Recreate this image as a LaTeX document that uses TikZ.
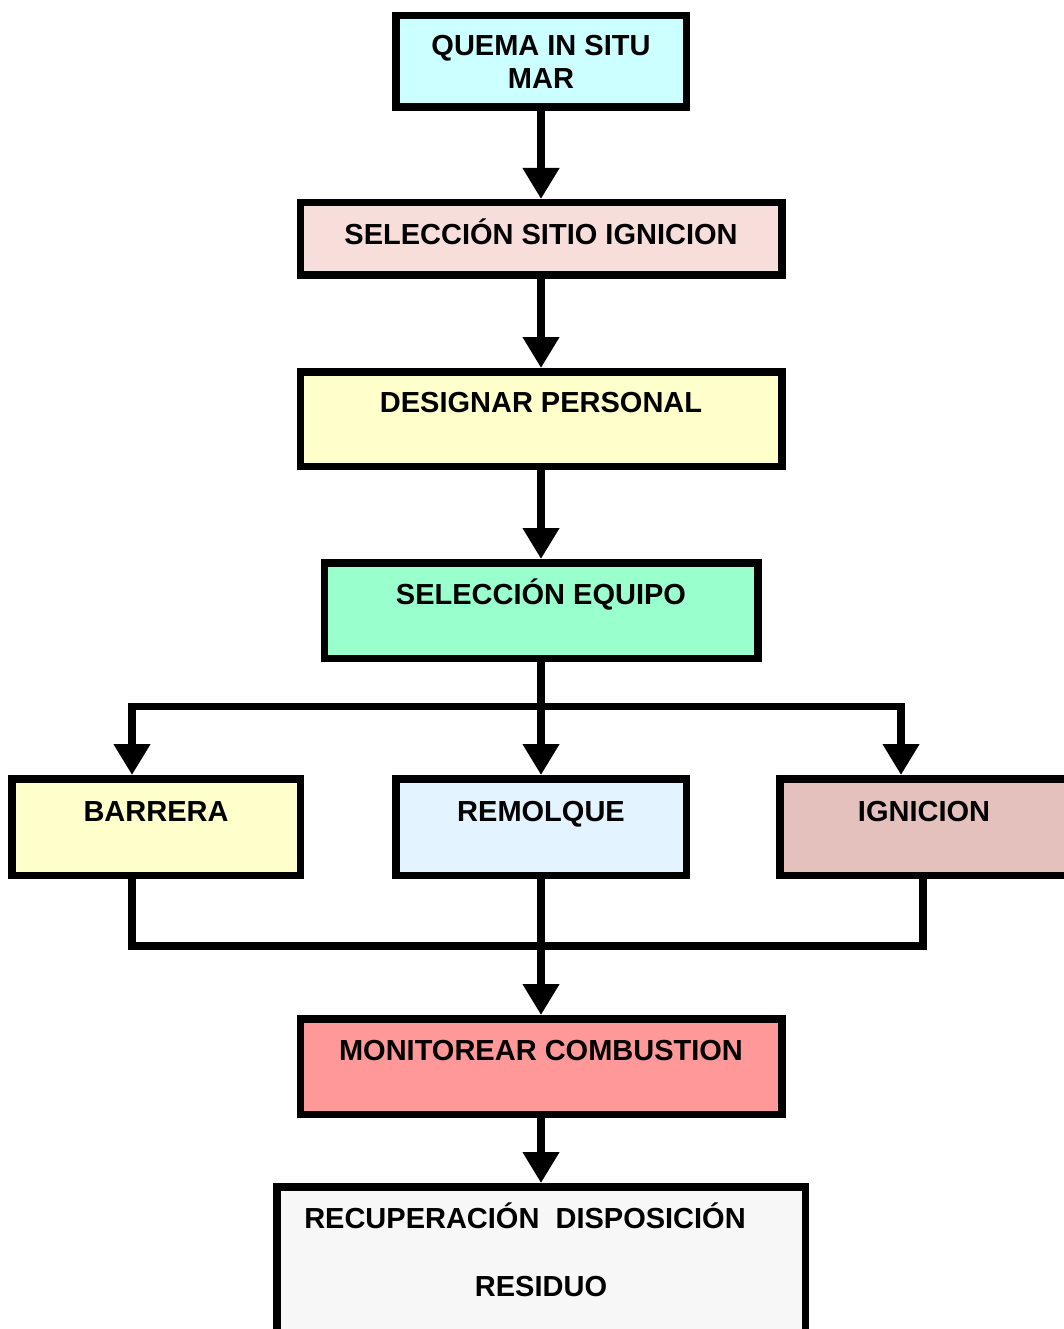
\documentclass[tikz,border=0pt]{standalone}
\usepackage{fontspec}
\setmainfont{Liberation Sans}
\usetikzlibrary{positioning,arrows.meta}
\definecolor{qsCyan}{HTML}{CCFFFF}
\definecolor{qsPink}{HTML}{F8DEDA}
\definecolor{qsYellow}{HTML}{FFFFCC}
\definecolor{qsGreen}{HTML}{99FFCC}
\definecolor{qsBlue}{HTML}{E3F3FF}
\definecolor{qsRose}{HTML}{E5C1BD}
\definecolor{qsSalmon}{HTML}{FF9999}
\definecolor{qsGray}{HTML}{F7F7F7}
\newcommand{\boxfont}{\fontsize{29}{33}\selectfont\bfseries}

\begin{document}
\begin{tikzpicture}[
    line width=7.5pt,
    box/.style={rectangle, draw=black, line width=7.5pt, font=\boxfont},
    captop/.style={text height=20.8pt, text depth=#1},
    flow/.style={-{Triangle[width=35pt,length=31pt]}, line width=7.5pt},
    link/.style={line width=7.5pt}
]
  \useasboundingbox (0,0) rectangle (1063pt,-1329pt);

  \node[box, fill=qsCyan, minimum width=290.5pt, minimum height=91.5pt, align=center] (quema) at (541pt,-61.5pt) {QUEMA IN SITU\\MAR};
  \node[box, captop=10pt, fill=qsPink, minimum width=481.5pt, minimum height=72.5pt] (sitio) [below=88pt of quema] {SELECCIÓN SITIO IGNICION};
  \node[box, captop=33pt, fill=qsYellow, minimum width=481.5pt, minimum height=94.5pt] (personal) [below=89pt of sitio] {DESIGNAR PERSONAL};
  \node[box, captop=33pt, fill=qsGreen, minimum width=433.5pt, minimum height=95.5pt] (equipo) [below=89pt of personal] {SELECCIÓN EQUIPO};

  \node[box, captop=32pt, fill=qsBlue, minimum width=290.5pt, minimum height=96.5pt] (remolque) [below=113pt of equipo] {REMOLQUE};
  \node[box, captop=32pt, fill=qsYellow, minimum width=288.5pt, minimum height=96.5pt] (barrera) [left=88pt of remolque] {BARRERA};
  \node[box, captop=32pt, fill=qsRose, minimum width=288.5pt, minimum height=96.5pt] (ignicion) [right=86pt of remolque] {IGNICION};

  \node[box, captop=33pt, fill=qsSalmon, minimum width=481.5pt, minimum height=95.5pt] (monitor) [below=136pt of remolque] {MONITOREAR COMBUSTION};
  \node[box, captop=137.5pt, fill=qsGray, minimum width=528.5pt, minimum height=200pt] (recup) [below=65pt of monitor]
    {\begin{tabular}[t]{@{}c@{}}RECUPERACIÓN\ \ DISPOSICIÓN\hspace*{32pt}\\[35pt]RESIDUO\end{tabular}};

  \draw[flow] (quema) -- (sitio);
  \draw[flow] (sitio) -- (personal);
  \draw[flow] (personal) -- (equipo);
  \draw[flow] (equipo) -- (remolque);

  % split towards the three tasks
  \coordinate[below=44.5pt of equipo] (split);
  \draw[flow] (split) -| ([xshift=-24pt]barrera.north);
  \draw[flow] (split) -| ([xshift=-23pt]ignicion.north);

  % join back before monitoring
  \coordinate[below=67pt of remolque] (merge);
  \draw[link] ([xshift=-24pt]barrera.south) |- (merge);
  \draw[link] ([xshift=-1pt]ignicion.south) |- (merge);
  \draw[flow] (remolque) -- (monitor);
  \draw[flow] (monitor) -- (recup);
\end{tikzpicture}
\end{document}
